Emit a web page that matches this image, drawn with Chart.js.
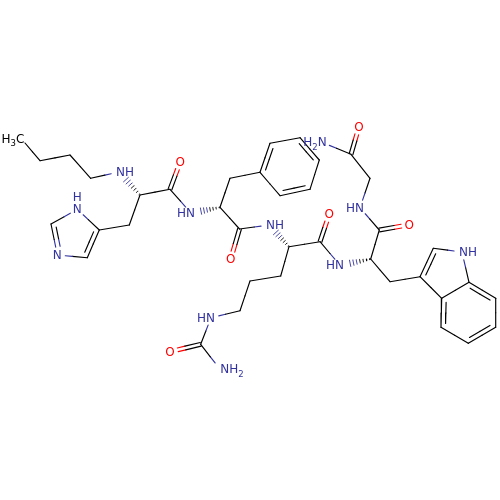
<!DOCTYPE html>
<html><head><meta charset="utf-8">
<script src="https://cdn.jsdelivr.net/npm/chart.js@4"></script>
<style>html,body{margin:0;padding:0;background:#fff}canvas{display:block}</style>
</head><body><canvas id="c" width="500" height="500"></canvas>
<script>
const atomX=[25,40,70,90.7,119,140,170,180.3,191,129.3,99.3,77.3,51,57.3,87.3,220,230,260,270,300,319.3,310,280,239.5,230.7,269,289,320,329.3,340,370.7,379.3,409.3,360,370,351,359,322,390,420,433.3,462,469,441.7,441,468.3,495.7,495.7,280.7,250,240,211,200.7,170,220];
const atomY=[143,160.7,155,178.3,172,195,189.3,161.7,213,225,230,209.3,224,255,257.7,207.3,178.3,172.3,143.3,137.7,160,189.3,195.7,229,259.3,225,246.7,241.7,214,265.3,259,230,224.7,207.7,178.3,154.3,126.7,142.3,281.7,276.7,248.3,252,282.3,298.3,327.3,343.3,327.3,298.3,276,281,310.7,317.7,344.3,351.7,369.3];
const atomEl=["C","C","C","C","N","C","C","O","N","C","C","N","C","N","C","C","C","C","C","C","C","C","C","C","O","N","C","C","O","N","C","C","O","N","C","C","O","N","C","C","C","N","C","C","C","C","C","C","C","C","C","N","C","O","N"];
const singleBonds=[[0,1],[1,2],[2,3],[3,4],[5,6],[6,8],[5,9],[9,10],[10,11],[11,12],[13,14],[15,16],[16,17],[18,19],[20,21],[22,17],[15,23],[23,25],[26,27],[27,29],[30,31],[31,33],[33,34],[34,35],[35,37],[30,38],[38,39],[40,41],[41,42],[42,43],[43,39],[44,45],[46,47],[26,48],[48,49],[49,50],[50,51],[51,52],[52,54]];
const carbonylBonds=[[6,7],[23,24],[27,28],[31,32],[35,36],[52,53]];
const ringDoubleBonds=[[10,14,12],[12,13,10],[17,18,20],[19,20,22],[21,22,18],[39,40,42],[43,44,46],[45,46,42],[47,42,44]];
const hashBonds=[[5,4],[15,8],[26,25],[30,29]];
const labelText=[["H","3","C"],["NH"],["O"],["HN"],["N"],["H"],["N"],["O"],["NH"],["O"],["HN"],["O"],["HN"],["O"],["H","2","N"],["NH"],["HN"],["O"],["NH","2"]];
const labelX=[13,125,180.3,186,77.3,77.3,57.3,230.7,275,329.3,335,409.3,355,359,315,468,206,170,232];
const labelY=[139,172,161.7,213,209.3,197.3,255,259.3,225,214,265.3,224.7,207.7,126.7,142.3,252,317.7,351.7,369.3];
const labelEl=["C","N","O","N","N","N","N","O","N","O","N","O","N","O","N","N","N","O","N"];
const colors={C:"#000000",N:"#3333a0",O:"#ff0000"};
const lw=1.15, trim=8;

const datasets=[];
function seg(x1,y1,x2,y2,col,w){datasets.push({data:[{x:x1,y:y1},{x:x2,y:y2}],showLine:true,borderColor:col,borderWidth:w||lw,pointRadius:0,borderCapStyle:"round",tension:0});}
function bond(a,b,ox,oy,shrink){
  let x1=atomX[a],y1=atomY[a],x2=atomX[b],y2=atomY[b];
  const dx=x2-x1,dy=y2-y1,L=Math.hypot(dx,dy),ux=dx/L,uy=dy/L;
  const mx=(x1+x2)/2+ox,my=(y1+y2)/2+oy;
  let t1=atomEl[a]==="C"?0:trim,t2=atomEl[b]==="C"?0:trim;
  t1=Math.max(t1,shrink||0);t2=Math.max(t2,shrink||0);
  seg(x1+ux*t1+ox,y1+uy*t1+oy,mx,my,colors[atomEl[a]]);
  seg(mx,my,x2-ux*t2+ox,y2-uy*t2+oy,colors[atomEl[b]]);
}
singleBonds.forEach(([a,b])=>bond(a,b,0,0));
carbonylBonds.forEach(([a,b])=>{
  const dx=atomX[b]-atomX[a],dy=atomY[b]-atomY[a],L=Math.hypot(dx,dy),nx=-dy/L*1.9,ny=dx/L*1.9;
  bond(a,b,nx,ny);bond(a,b,-nx,-ny);
});
ringDoubleBonds.forEach(([a,b,s])=>{
  bond(a,b,0,0);
  const dx=atomX[b]-atomX[a],dy=atomY[b]-atomY[a],L=Math.hypot(dx,dy);
  let nx=-dy/L,ny=dx/L;
  if(nx*(atomX[s]-atomX[a])+ny*(atomY[s]-atomY[a])<0){nx=-nx;ny=-ny;}
  bond(a,b,nx*4.5,ny*4.5,4);
});
hashBonds.forEach(([a,b])=>{
  const dx=atomX[b]-atomX[a],dy=atomY[b]-atomY[a],L=Math.hypot(dx,dy),ux=dx/L,uy=dy/L;
  const n=7,len=L-trim;
  for(let i=0;i<n;i++){
    const f=(i+0.3)/n,d=len*f,h=0.4+f*3.2,cx=atomX[a]+ux*d,cy=atomY[a]+uy*d;
    const col=f>0.5?colors[atomEl[b]]:"#000000";
    seg(cx-uy*h,cy+ux*h,cx+uy*h,cy-ux*h,col,0.9);
  }
});

const labelPlugin={id:"atomLabels",afterDatasetsDraw(chart){
  const g=chart.ctx,sx=chart.scales.x,sy=chart.scales.y;
  g.save();g.textBaseline="middle";g.textAlign="left";
  const font=s=>`${s}px "DejaVu Sans"`;
  labelText.forEach((runs,i)=>{
    let w=0;
    runs.forEach(r=>{g.font=font(/\d/.test(r)?8.5:12);w+=g.measureText(r).width;});
    let x=sx.getPixelForValue(labelX[i])-w/2;const y=sy.getPixelForValue(labelY[i])+1;
    g.fillStyle=colors[labelEl[i]];
    runs.forEach(r=>{
      const sub=/\d/.test(r);g.font=font(sub?8.5:12);
      g.fillText(r,x,y+(sub?4:0));x+=g.measureText(r).width;
    });
  });
  g.restore();
}};

new Chart(document.getElementById("c"),{type:"scatter",data:{datasets},plugins:[labelPlugin],options:{
  responsive:false,animation:false,layout:{padding:0},
  scales:{x:{type:"linear",min:0,max:500,display:false},y:{type:"linear",min:0,max:500,reverse:true,display:false}},
  plugins:{legend:{display:false},tooltip:{enabled:false},title:{display:false}}
}});
</script></body></html>
